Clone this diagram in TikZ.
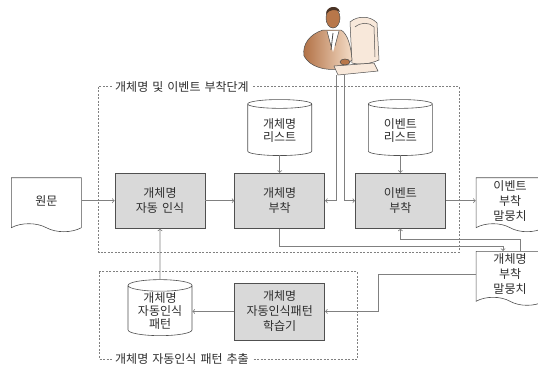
\documentclass[tikz,border=0pt]{standalone}
\usepackage{xcolor}
\usepackage{fontspec}
\setmainfont{Noto Sans CJK KR}[WordSpace=1.5]
\usepackage{tikz}
\usetikzlibrary{positioning,shapes.geometric,shapes.symbols}

\definecolor{linegray}{HTML}{808080}
\definecolor{boxfill}{HTML}{D9D9D9}
\definecolor{boxline}{HTML}{505050}
\definecolor{txt}{HTML}{2E2E2E}
\definecolor{skin}{HTML}{B8774A}
\definecolor{hair}{HTML}{4A3325}
\definecolor{suitdark}{HTML}{B06E42}
\definecolor{suitlight}{HTML}{F4DCC6}
\definecolor{screen}{HTML}{F8E8DA}

\begin{document}
\begin{tikzpicture}[
				x=1pt, y=-1pt,
				procnode/.style={rectangle, draw=boxline, fill=boxfill, line width=0.7pt, minimum width=90pt, minimum height=55pt, align=center, text=txt, font=\fontsize{12}{15}\selectfont},
				dbnode/.style={cylinder, shape border rotate=90, aspect=0.25, draw=boxline, fill=white, line width=0.6pt, minimum width=64pt, minimum height=56pt, align=center, text=txt, inner sep=1pt, font=\fontsize{12}{13}\selectfont},
				docnode/.style={tape, tape bend top=none, tape bend bottom=out and in, tape bend height=8pt, draw=boxline, fill=white, line width=0.6pt, minimum width=70pt, minimum height=54pt, align=center, text=txt, inner sep=2pt, font=\fontsize{12}{15}\selectfont},
				frame/.style={draw=linegray, line width=0.6pt, dash pattern=on 2pt off 1.5pt},
				frametitle/.style={fill=white, inner sep=3pt, anchor=west, text=txt, font=\fontsize{12}{13}\selectfont},
				line/.style={draw=linegray, line width=0.8pt, ->},
				node distance = 29pt,
				]
				\useasboundingbox (0,0) rectangle (538,370);
				
				%Frames
				\draw[frame] (98.5,86.7) rectangle (459,252.5);
				\draw[frame] (99.3,271.7) rectangle (357.5,359);
				\node[frametitle] (stage) at (112,86.7) {개체명 및 이벤트 부착단계};
				\node[frametitle] (extract) at (112,359) {개체명 자동인식 패턴 추출};
				
				%Nodes
				\node[procnode] (recog) at (160,200.7) {개체명\\자동 인식};
				\node[procnode] (netag)[right=of recog] {개체명\\부착};
				\node[procnode] (evtag)[right=30pt of netag] {이벤트\\부착};
				\node[dbnode] (nelist)[above=17pt of netag] {개체명\\리스트};
				\node[dbnode] (evlist)[above=17pt of evtag] {이벤트\\리스트};
				\node[docnode] (src)[left=33pt of recog] {원문};
				\node[docnode, minimum width=68pt] (evcorp)[right=30pt of evtag] {이벤트\\부착\\말뭉치};
				\node[docnode, minimum width=68pt] (necorp)[below=27pt of evcorp] {개체명\\부착\\말뭉치};
				\node[procnode, minimum height=57pt] (learn)[below=54pt of netag] {개체명\\자동인식패턴\\학습기};
				\node[dbnode] (pattern)[left=42pt of learn] {개체명\\자동인식\\패턴};
				
				%User at the terminal
				\begin{scope}[draw=black!70, line width=0.5pt]
					\draw[fill=screen] (350,22) .. controls (358,15) and (371,16) .. (377,23) -- (379,60) .. controls (370,64) and (360,65) .. (352,63) -- cycle;
					\draw (355,27) .. controls (361,22) and (369,22) .. (374,27) -- (375,57);
					\shade[left color=suitdark, right color=suitlight, draw=black!70] (323,30) .. controls (310,34) and (302,44) .. (304,56) .. controls (310,67) and (325,71) .. (340,69) -- (352,60) .. controls (351,47) and (348,34) .. (341,30) -- cycle;
					\fill[white] (327,31) -- (333,52) -- (339,31) -- cycle;
					\draw[line width=0.8pt] (333,33) -- (331,50);
					\draw (327,31) -- (331,46);
					\draw (339,31) -- (335,46);
					\draw[fill=screen] (334,66) -- (374,63) -- (378,71) -- (338,75) -- cycle;
					\draw[fill=skin] (345,62) ellipse (5 and 3);
					\draw[fill=skin] (333,18) ellipse (7 and 10);
					\fill[hair] (326,14) .. controls (326,6) and (338,4) .. (340,12) .. controls (336,9) and (330,9) .. (326,14) -- cycle;
				\end{scope}
				\coordinate (user) at (340.25,75);
				
				%Lines
				\draw[line] (src.east |- recog.west) -- (recog.west);
				\draw[line] (recog.east) -- (netag.west);
				\draw[line] (nelist.south) -- (netag.north);
				\draw[line] (evlist.south) -- (evtag.north);
				\draw[line] ([xshift=-4.25pt]user) |- (netag.east);
				\draw[line] ([xshift=4.25pt]user) |- (evtag.west);
				\draw[line] (evtag.east) -- (evtag.east -| evcorp.west);
				\draw[line] (netag.south) -- ++(0,18) -| ([xshift=-7pt]necorp.north);
				\draw[line] ([xshift=10pt]necorp.north) -- ++(0,-12) -| (evtag.south);
				\draw[line] (necorp.west) -- ++(-97,0) |- (learn.east);
				\draw[line] (learn.west) -- (pattern.east);
				\draw[line] (pattern.north) -- (recog.south);
				
			\end{tikzpicture}
\end{document}
